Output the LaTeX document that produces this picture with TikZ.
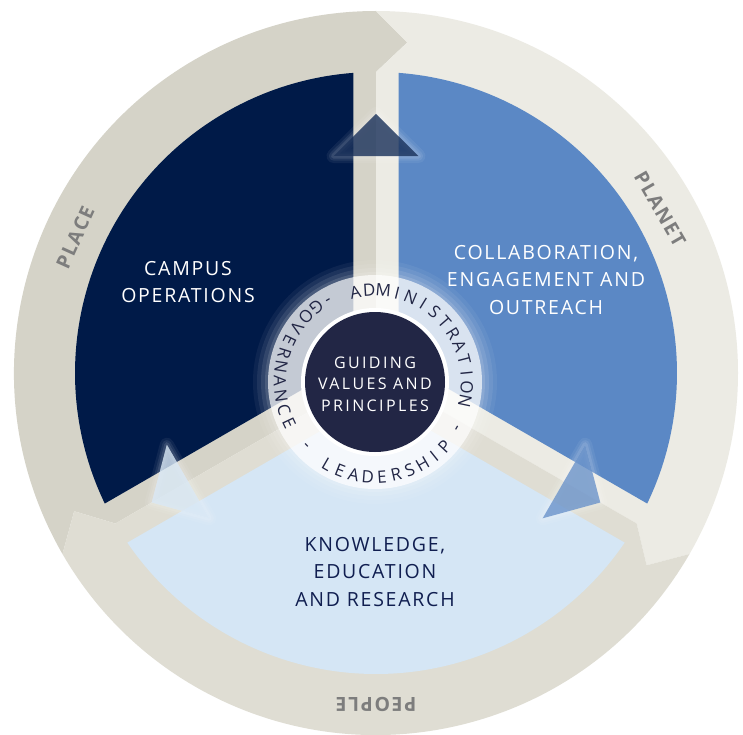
\documentclass[tikz,border=0pt]{standalone}
\usepackage{fontspec}
\setmainfont{Open Sans}
\newfontfamily\trackfont[LetterSpace=9]{Open Sans}
\newfontfamily\hubfont[LetterSpace=15]{Open Sans}
\newfontfamily\ringfont[LetterSpace=8]{Open Sans}

\definecolor{placegray}{RGB}{213,211,200}
\definecolor{planetgray}{RGB}{236,235,228}
\definecolor{peoplegray}{RGB}{223,221,211}
\definecolor{campusnavy}{RGB}{0,26,72}
\definecolor{collabblue}{RGB}{91,136,197}
\definecolor{knowblue}{RGB}{213,230,245}
\definecolor{hubnavy}{RGB}{34,38,69}
\definecolor{labelgray}{RGB}{125,125,125}
\definecolor{knowtext}{RGB}{16,30,80}

\tikzset{
  sectortext/.style={align=center, text=white, font=\trackfont\fontsize{19.5}{27.5}\selectfont},
  hubtext/.style={align=center, text=white, font=\hubfont\fontsize{16}{21.5}\selectfont},
  ringlabel/.style={text=labelgray, font=\ringfont\bfseries\fontsize{19.5}{19.5}\selectfont},
  hubletter/.style={text=hubnavy, inner sep=0pt, font=\fontsize{17}{17}\selectfont},
}

\begin{document}
\begin{tikzpicture}[x=1pt,y=1pt]
\useasboundingbox[fill=white] (-376,-361) rectangle (367,373);

% outer ring: three arrow segments, each with its half spokes
\foreach \a/\col in {210/placegray,90/planetgray,-30/peoplegray}{
  \pgfmathsetmacro\b{\a-120}
  \fill[\col] (0,0) -- (\a:301) -- (\a-5.4:332) -- (\a:362)
    arc[start angle=\a, end angle=\b, radius=362]
    -- (\b-5.4:332) -- (\b:301) -- cycle;
}

% the three sectors
\foreach \a/\col in {210/campusnavy,90/collabblue,-30/knowblue}{
  \pgfmathsetmacro\s{\a-4.3}
  \pgfmathsetmacro\e{\a-115.7}
  \fill[\col] (\a-60:26) -- (\s:301) arc[start angle=\s, end angle=\e, radius=301] -- cycle;
}

% glowing triangles on the spokes
\foreach \s/\col in {90/campusnavy,-30/collabblue,210/knowblue}{
  \pgfmathsetmacro\p{\s+11.08}
  \pgfmathsetmacro\q{\s-11.08}
  \foreach \w/\o in {14/.06,9/.08,5/.1}
    \draw[white, opacity=\o, line width=\w, line join=round] (\s:259) -- (\p:221.1) -- (\q:221.1) -- cycle;
  \fill[white, opacity=.3] (\s:259) -- (\p:221.1) -- (\q:221.1) -- cycle;
  \fill[\col, opacity=.72] (\s:259) -- (\p:221.1) -- (\q:221.1) -- cycle;
}

% hub
\coordinate (hub) at (-1,-9);
\foreach \r/\o in {122/.05,118/.07,114/.09,110/.12}
  \fill[white, opacity=\o] (hub) circle (\r);
\fill[white, opacity=.68] (hub) circle (107);
\fill[white] (hub) circle (74);
\fill[hubnavy] (hub) circle (70);

% ring text
\foreach \ch [count=\i] in {-,{},A,D,M,I,N,I,S,T,R,A,T,I,O,N,{},-}{
  \pgfmathsetmacro\ang{120-(\i-1)*8.8}
  \node[hubletter, rotate=\ang-90] (adm-\i) at ([shift={(\ang:92)}]hub) {\ch};
}
\foreach \ch [count=\i] in {G,O,V,E,R,N,A,N,C,E,{},-,{},L,E,A,D,E,R,S,H,I,P}{
  \pgfmathsetmacro\ang{128+(\i-1)*8.6}
  \node[hubletter, rotate=\ang+90] (gov-\i) at ([shift={(\ang:95)}]hub) {\ch};
}

\node[hubtext] (guiding) at ([yshift=-2]hub) {GUIDING\\VALUES AND\\PRINCIPLES};

\node[sectortext] (campus) at (-188,91) {CAMPUS\\OPERATIONS};
\node[sectortext] (collab) at (170,93) {COLLABORATION,\\ENGAGEMENT AND\\OUTREACH};
\node[sectortext, text=knowtext] (know) at (-1,-199) {KNOWLEDGE,\\EDUCATION\\AND RESEARCH};

\node[ringlabel, rotate=65.7] (place) at (155.7:330) {PLACE};
\node[ringlabel, rotate=-60] (planet) at (30:328) {PLANET};
\node[ringlabel, rotate=180] (people) at (270:331) {PEOPLE};
\end{tikzpicture}
\end{document}
